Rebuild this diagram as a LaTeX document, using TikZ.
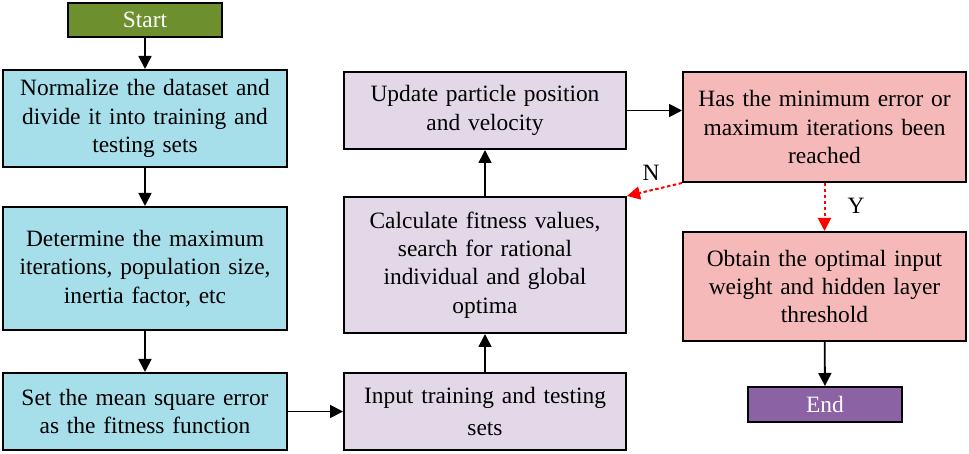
\documentclass[tikz,border=0pt]{standalone}
\usepackage{fontspec}
\setmainfont{Liberation Serif}
\usetikzlibrary{arrows.meta}
\definecolor{cstart}{HTML}{6E8F2E}
\definecolor{ccyan}{HTML}{A6DEEA}
\definecolor{clav}{HTML}{E2D8E8}
\definecolor{cpink}{HTML}{F4B9B8}
\definecolor{cend}{HTML}{8B62A3}
\tikzset{
  box/.style={draw=black, line width=2bp, align=center, inner sep=0pt,
    font=\fontsize{23.5}{28.5}\selectfont, text width=#1},
  box/.default=275bp,
  arr/.style={line width=1.8bp, -{Triangle[length=13bp,width=13bp]}},
  redarr/.style={red, line width=2bp, dash pattern=on 3.5bp off 2.5bp, -{Triangle[length=13bp,width=13bp]}},
  lbl/.style={font=\fontsize{23.5}{28}\selectfont, inner sep=0pt}
}
\begin{document}
\begin{tikzpicture}[x=1bp,y=-1bp]
\useasboundingbox (0,0) rectangle (969,454);
\node[box=150bp, fill=cstart, text=white, minimum width=154bp, minimum height=34bp] (start) at (145,20) {Start};
\node[box, fill=ccyan, minimum width=283bp, minimum height=97bp] (norm) at (145,118.5) {Normalize the dataset and\\divide it into training and\\testing sets};
\node[box, fill=ccyan, minimum width=283bp, minimum height=123bp] (det) at (145,268.5) {Determine the maximum\\iterations, population size,\\inertia factor, etc};
\node[box, fill=ccyan, minimum width=283bp, minimum height=77bp] (set) at (145,411.5) {Set the mean square error\\as the fitness function};
\node[box, fill=clav, minimum width=282bp, minimum height=77bp, font=\fontsize{23.5}{33}\selectfont] (inp) at (485,411.5) {Input training and testing\\sets};
\node[box, fill=clav, minimum width=282bp, minimum height=136bp] (calc) at (485,265) {Calculate fitness values,\\search for rational\\individual and global\\optima};
\node[box, fill=clav, minimum width=282bp, minimum height=77bp] (upd) at (485,110.5) {Update particle position\\and velocity};
\node[box, fill=cpink, minimum width=283bp, minimum height=110bp] (has) at (824.5,127) {Has the minimum error or\\maximum iterations been\\reached};
\node[box, fill=cpink, minimum width=283bp, minimum height=109bp] (obt) at (824.5,286.5) {Obtain the optimal input\\weight and hidden layer\\threshold};
\node[box=150bp, fill=cend, text=white, minimum width=154bp, minimum height=35bp] (end) at (825,404.5) {End};

\draw[arr] (start) -- (norm);
\draw[arr] (norm) -- (det);
\draw[arr] (det) -- (set);
\draw[arr] (set) -- (inp);
\draw[arr] (inp) -- (calc);
\draw[arr] (calc) -- (upd);
\draw[arr] (upd.east) -- (upd.east -| has.west);
\draw[redarr] (has.south west) -- (calc.north east);
\draw[redarr] (has) -- (obt);
\draw[arr] (obt) -- (end);
\node[lbl] (nlbl) at (651,173) {N};
\node[lbl] (ylbl) at (856,206) {Y};
\end{tikzpicture}
\end{document}
